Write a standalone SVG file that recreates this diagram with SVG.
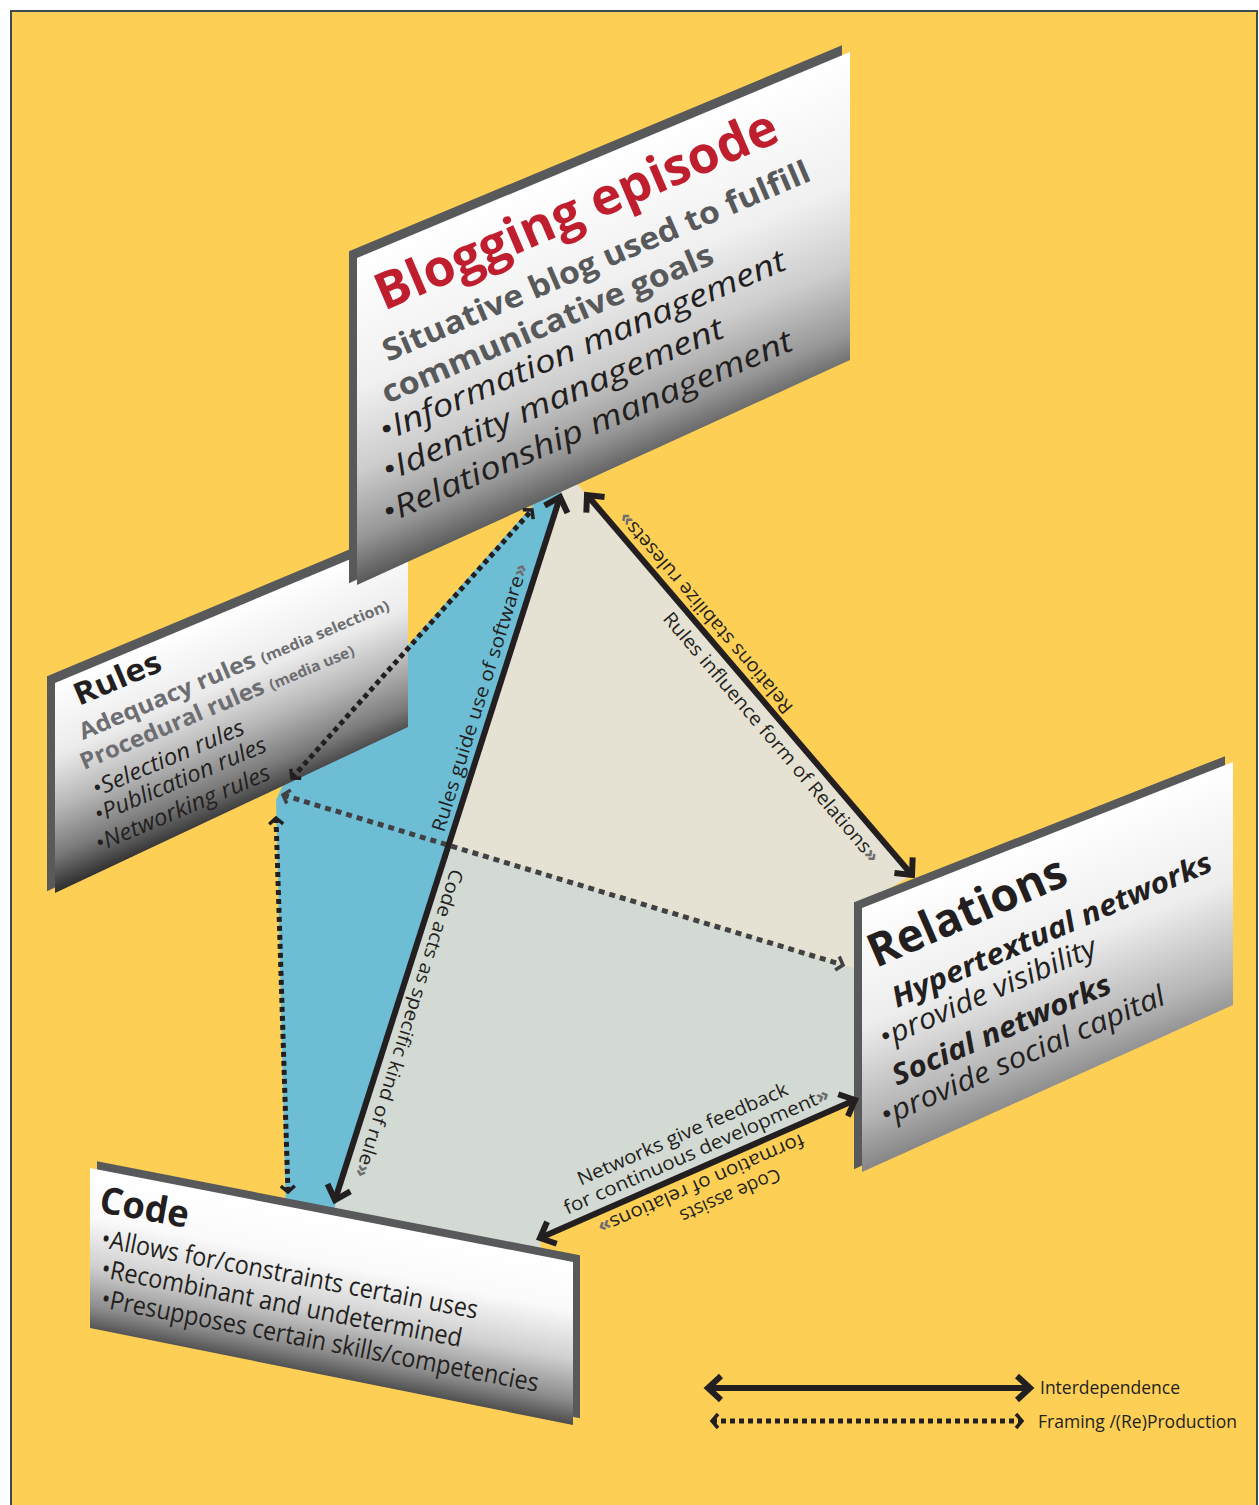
<svg xmlns="http://www.w3.org/2000/svg" width="1259" height="1505" viewBox="0 0 1259 1505">
<style>
text{font-family:"Open Sans","Noto Sans","Liberation Sans",sans-serif;fill:#231F20;}
.lbl{font-size:19px;}
.chev{fill:#6D6E71;font-weight:bold;}
.b{font-weight:bold;}
.i{font-style:italic;}
.gr{fill:#58595B;}
.gr2{fill:#6D6E71;}
.edge{fill:#58595B;}
.solid{stroke:#231F20;stroke-width:6;fill:none;marker-start:url(#ah);marker-end:url(#ah);}
.dot{stroke:#231F20;stroke-width:5;fill:none;stroke-dasharray:5 4;marker-start:url(#dh);marker-end:url(#dh);}
.dot2{stroke:#414042;stroke-width:5;fill:none;stroke-dasharray:6 5;marker-start:url(#dh2);marker-end:url(#dh2);}
</style>
<defs>
<marker id="ah" viewBox="-20 -20 40 40" markerWidth="40" markerHeight="40" markerUnits="userSpaceOnUse" orient="auto-start-reverse" refX="0" refY="0">
<path d="M-13,-12 L0,0 L-13,12" fill="none" stroke="#231F20" stroke-width="6"/>
</marker>
<marker id="dh" viewBox="-20 -20 40 40" markerWidth="40" markerHeight="40" markerUnits="userSpaceOnUse" orient="auto-start-reverse" refX="0" refY="0">
<path d="M-6,-7 L0,0 L-6,7" fill="none" stroke="#231F20" stroke-width="3.5"/>
</marker>
<marker id="dh2" viewBox="-20 -20 40 40" markerWidth="40" markerHeight="40" markerUnits="userSpaceOnUse" orient="auto-start-reverse" refX="0" refY="0">
<path d="M-6,-7 L0,0 L-6,7" fill="none" stroke="#414042" stroke-width="3.5"/>
</marker>
<linearGradient id="g1" x1="0" y1="0" x2="0" y2="1">
<stop offset="0" stop-color="#ffffff"/><stop offset="0.4" stop-color="#f0f0f0"/><stop offset="0.65" stop-color="#cdcdcd"/><stop offset="0.86" stop-color="#979797"/><stop offset="1" stop-color="#585858"/>
</linearGradient>
<linearGradient id="g2" x1="0" y1="0" x2="0" y2="1">
<stop offset="0" stop-color="#ffffff"/><stop offset="0.35" stop-color="#ebebeb"/><stop offset="0.6" stop-color="#b6b6b6"/><stop offset="0.82" stop-color="#7a7a7a"/><stop offset="1" stop-color="#2e2e2e"/>
</linearGradient>
<linearGradient id="g3" x1="0" y1="0" x2="0" y2="1">
<stop offset="0" stop-color="#ffffff"/><stop offset="0.45" stop-color="#ededed"/><stop offset="0.8" stop-color="#b5b5b5"/><stop offset="1" stop-color="#858585"/>
</linearGradient>
<linearGradient id="g4" x1="0" y1="0" x2="0" y2="1">
<stop offset="0" stop-color="#ffffff"/><stop offset="0.3" stop-color="#fafafa"/><stop offset="0.6" stop-color="#cfcfcf"/><stop offset="0.85" stop-color="#8c8c8c"/><stop offset="1" stop-color="#4d4d4d"/>
</linearGradient>
</defs>

<rect x="0" y="0" width="1259" height="1505" fill="#ffffff"/>
<rect x="11" y="11" width="1246" height="1500" fill="#FDCF55" stroke="#3D4A52" stroke-width="2"/>

<g id="regions">
<polygon fill="#6DBDD5" points="533,505 565,480 318,1260 287,1260 276,800 282,787"/>
<polygon fill="#E6E2D3" points="450,844 565,480 574,480 912,875 862,905 860,970"/>
<polygon fill="#D3DAD3" points="450,844 860,970 860,1098 540,1238 545,1300 318,1260"/>
</g>

<g id="rules">
<g transform="translate(55,683) skewY(-22.75)">
<polygon class="edge" points="-8,-10 345,-10 345,185 -8,205"/>
<polygon fill="url(#g2)" points="0,0 353,0 353,192 0,210"/>
</g>
<text class="b" font-size="31" transform="translate(79,706) rotate(-23)" textLength="92" lengthAdjust="spacingAndGlyphs">Rules</text>
<text class="b gr2" font-size="23" transform="translate(83,740) rotate(-23)" textLength="334" lengthAdjust="spacingAndGlyphs">Adequacy rules <tspan font-size="15">(media selection)</tspan></text>
<text class="b gr2" font-size="23" transform="translate(84,770) rotate(-23)" textLength="295" lengthAdjust="spacingAndGlyphs">Procedural rules <tspan font-size="15">(media use)</tspan></text>
<text class="i" font-size="23" transform="translate(96,797) rotate(-23)" textLength="163" lengthAdjust="spacingAndGlyphs">•Selection rules</text>
<text class="i" font-size="23" transform="translate(98,823) rotate(-23)" textLength="185" lengthAdjust="spacingAndGlyphs">•Publication rules</text>
<text class="i" font-size="23" transform="translate(99,852) rotate(-23)" textLength="188" lengthAdjust="spacingAndGlyphs">•Networking rules</text>
</g>

<g id="blogging">
<g transform="translate(357,258) skewY(-22.68)">
<polygon class="edge" points="-8,-10 485,-10 485,300 -8,322"/>
<polygon fill="url(#g1)" points="0,0 493,0 493,308 0,327"/>
</g>
<text class="b" font-size="51" style="fill:#BE1E2D" transform="translate(384,311) rotate(-23.2)" textLength="433" lengthAdjust="spacingAndGlyphs">Blogging episode</text>
<text class="b gr" font-size="31" transform="translate(388,362) rotate(-23.2)" textLength="462" lengthAdjust="spacingAndGlyphs">Situative blog used to fulfill</text>
<text class="b gr" font-size="31" transform="translate(387,404) rotate(-23.2)" textLength="358" lengthAdjust="spacingAndGlyphs">communicative goals</text>
<text class="i" font-size="31" transform="translate(384,442) rotate(-23.2)" textLength="440" lengthAdjust="spacingAndGlyphs">•Information management</text>
<text class="i" font-size="31" transform="translate(387,482) rotate(-23.2)" textLength="369" lengthAdjust="spacingAndGlyphs">•Identity management</text>
<text class="i" font-size="31" transform="translate(387,524) rotate(-23.2)" textLength="444" lengthAdjust="spacingAndGlyphs">•Relationship management</text>
</g>

<g id="relations">
<g transform="translate(862,908) skewY(-21.48)">
<polygon class="edge" points="-8,-9 363,-9 363,234 -8,258"/>
<polygon fill="url(#g3)" points="0,0 371,0 371,243 0,264"/>
</g>
<text class="b" font-size="46" transform="translate(876,968) rotate(-23.5)" textLength="212" lengthAdjust="spacingAndGlyphs">Relations</text>
<text class="b i" font-size="29" transform="translate(897,1008) rotate(-23.5)" textLength="346" lengthAdjust="spacingAndGlyphs">Hypertextual networks</text>
<text class="i" font-size="29" transform="translate(884,1048) rotate(-23.5)" textLength="234" lengthAdjust="spacingAndGlyphs">•provide visibility</text>
<text class="b i" font-size="29" transform="translate(897,1086) rotate(-23.5)" textLength="236" lengthAdjust="spacingAndGlyphs">Social networks</text>
<text class="i" font-size="29" transform="translate(885,1126) rotate(-23.5)" textLength="308" lengthAdjust="spacingAndGlyphs">•provide social capital</text>
</g>

<g id="code">
<g transform="translate(90,1168) skewY(11.01)">
<polygon class="edge" points="7,-8 490,-8 490,155 7,152"/>
<polygon fill="url(#g4)" points="0,0 483,0 483,163 0,160"/>
</g>
<text class="b" font-size="37" transform="translate(98,1212) rotate(10)" textLength="90" lengthAdjust="spacingAndGlyphs">Code</text>
<text font-size="26" transform="translate(100,1247) rotate(10.8)" textLength="383" lengthAdjust="spacingAndGlyphs">•Allows for/constraints certain uses</text>
<text font-size="26" transform="translate(100,1277) rotate(11)" textLength="367" lengthAdjust="spacingAndGlyphs">•Recombinant and undetermined</text>
<text font-size="26" transform="translate(100,1307) rotate(11)" textLength="445" lengthAdjust="spacingAndGlyphs">•Presupposes certain skills/competencies</text>
</g>

<g id="connectors">
<path class="dot" d="M292,778 L532,510"/>
<path class="dot2" d="M283,795 L843,965"/>
<path class="dot" d="M276,818 L288,1192"/>
<path class="solid" d="M560,497 L335,1200"/>
<path class="solid" d="M587,495 L912,875"/>
<path class="solid" d="M540,1238 L855,1100"/>
<text class="lbl" transform="translate(444,833) rotate(-72.6)" textLength="280" lengthAdjust="spacingAndGlyphs">Rules guide use of software<tspan class="chev">»</tspan></text>
<text class="lbl" transform="translate(451,868) rotate(107.4)" textLength="322" lengthAdjust="spacingAndGlyphs">Code acts as specific kind of rule<tspan class="chev">»</tspan></text>
<text class="lbl" transform="translate(662,619) rotate(49.5)" textLength="322" lengthAdjust="spacingAndGlyphs">Rules influence form of Relations<tspan class="chev">»</tspan></text>
<text class="lbl" transform="translate(794,707) rotate(229.5)" textLength="258" lengthAdjust="spacingAndGlyphs">Relations stabilize rulesets<tspan class="chev">»</tspan></text>
<g transform="translate(703,1166) rotate(-23.7)">
<text class="lbl" x="-6" y="-31" text-anchor="middle" textLength="228" lengthAdjust="spacingAndGlyphs">Networks give feedback</text>
<text class="lbl" x="0" y="-10" text-anchor="middle" textLength="288" lengthAdjust="spacingAndGlyphs">for continuous development<tspan class="chev">»</tspan></text>
</g>
<g transform="translate(695,1170) rotate(156.3)">
<text class="lbl" x="-22" y="-31" text-anchor="middle" textLength="108" lengthAdjust="spacingAndGlyphs">Code assists</text>
<text class="lbl" x="0" y="-9" text-anchor="middle" textLength="223" lengthAdjust="spacingAndGlyphs">formation of relations<tspan class="chev">»</tspan></text>
</g>
</g>

<g id="legend">
<path class="solid" d="M708,1388 L1030,1388"/>
<path class="dot" d="M712,1421 L1022,1421"/>
<text class="lbl" font-size="18" style="font-size:18px" x="1040" y="1394" textLength="140" lengthAdjust="spacingAndGlyphs">Interdependence</text>
<text class="lbl" style="font-size:18px" x="1038" y="1428" textLength="199" lengthAdjust="spacingAndGlyphs">Framing /(Re)Production</text>
</g>
</svg>
